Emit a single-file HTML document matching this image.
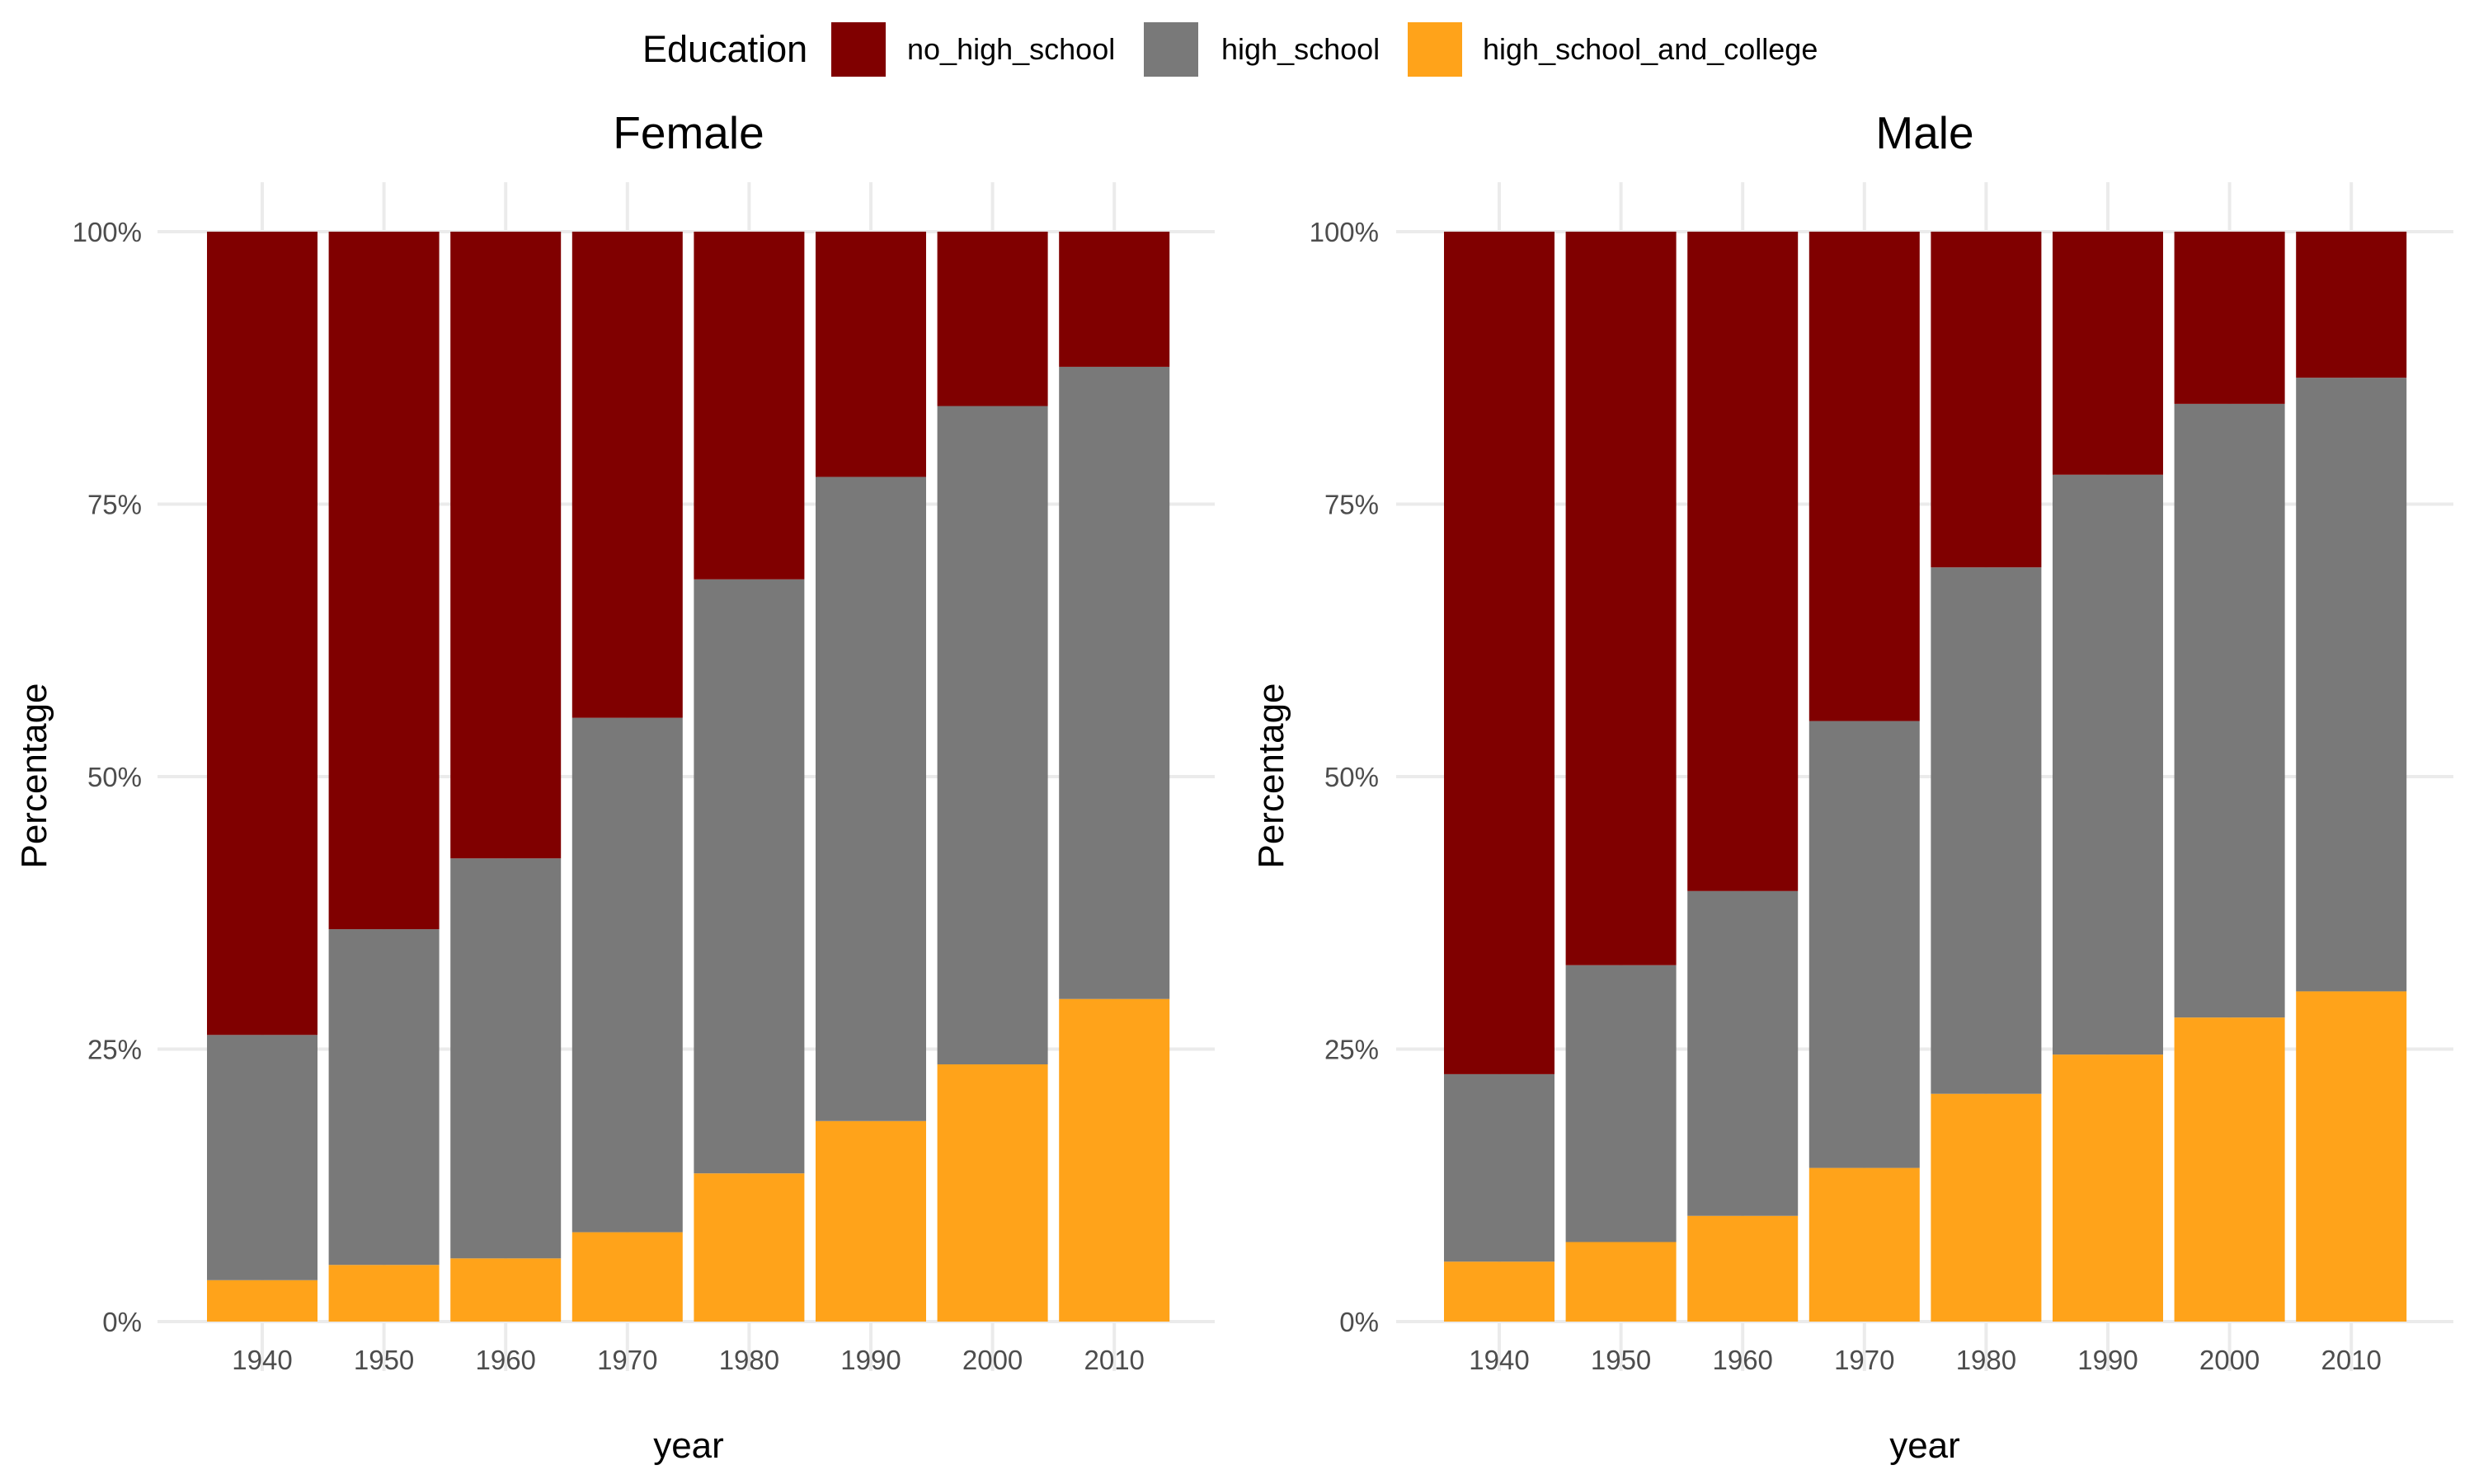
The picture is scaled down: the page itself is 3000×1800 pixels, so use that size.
<!DOCTYPE html>
<html><head><meta charset="utf-8"><style>
html,body{margin:0;padding:0;background:#fff;}
svg{display:block;font-family:"Liberation Sans",Arial,sans-serif;}
</style></head><body>
<svg id="chart" width="3000" height="1800" viewBox="0 0 3000 1800"></svg>
<script>
const years = ["1940","1950","1960","1970","1980","1990","2000","2010"];
const yTicks = [0,0.25,0.5,0.75,1];
const yTickLabels = ["0%","25%","50%","75%","100%"];
const panels = ["Female","Male"];
const femaleCollege = [0.038,0.052,0.058,0.082,0.136,0.184,0.236,0.296];
const femaleHighSchool = [0.225,0.308,0.367,0.472,0.545,0.591,0.604,0.580];
const femaleNoHighSchool = [0.737,0.640,0.575,0.446,0.319,0.225,0.160,0.124];
const maleCollege = [0.055,0.073,0.097,0.141,0.209,0.245,0.279,0.303];
const maleHighSchool = [0.172,0.254,0.298,0.410,0.483,0.532,0.563,0.563];
const maleNoHighSchool = [0.773,0.673,0.605,0.449,0.308,0.223,0.158,0.134];
const colors = {no:"#800000", hs:"#797979", col:"#FFA31A"};
const svg = document.getElementById('chart');
const NS = "http://www.w3.org/2000/svg";
function mk(tag, attrs, parent){const e=document.createElementNS(NS,tag);for(const k in attrs)e.setAttribute(k,attrs[k]);(parent||svg).appendChild(e);return e;}
const yTop=281, yBot=1603;
function yS(v){return yBot-(yBot-yTop)*v;}
const panelDefs=[
 {name:"female",title:"Female",x0:318,gx0:191,gx1:1473,lab:172,pl:42,cx:835,data:[femaleCollege,femaleHighSchool,femaleNoHighSchool]},
 {name:"male",title:"Male",x0:1818,gx0:1693,gx1:2975,lab:1672,pl:1542,cx:2334,data:[maleCollege,maleHighSchool,maleNoHighSchool]}];
const step=147.6, bw=134;
panelDefs.forEach(p=>{
  const g=mk('g',{});
  
  
  function xS(i){return p.x0+i*step;}
  yTicks.forEach((t,i)=>{
    const l=mk('line',{x1:p.gx0,x2:p.gx1,y1:yS(t),y2:yS(t),stroke:"#ebebeb","stroke-width":4},g);
    
    
    const tx=mk('text',{x:p.lab,y:yS(t)+12,"text-anchor":"end","font-size":33,fill:"#4d4d4d"},g);
    tx.textContent=yTickLabels[i];
    
    
  });
  years.forEach((yr,i)=>{
    const l=mk('line',{x1:xS(i),x2:xS(i),y1:yTop-60,y2:yBot+60,stroke:"#ebebeb","stroke-width":4},g);
    
    
    const tx=mk('text',{x:xS(i),y:1661,"text-anchor":"middle","font-size":33,fill:"#4d4d4d"},g);
    tx.textContent=yr;
    
    
  });
  years.forEach((yr,i)=>{
    let base=0;
    [["col",p.data[0]],["hs",p.data[1]],["no",p.data[2]]].forEach(([k,arr])=>{
      const v=arr[i];
      const r=mk('rect',{x:xS(i)-bw/2,y:yS(base+v),width:bw,height:yS(base)-yS(base+v),fill:colors[k]},g);
      
      
      base+=v;
    });
  });
  const t=mk('text',{x:p.cx,y:180,"text-anchor":"middle","font-size":55,fill:"#000"},g);
  t.textContent=p.title;
  
  
  const xt=mk('text',{x:p.cx,y:1768,"text-anchor":"middle","font-size":44,fill:"#000"},g);
  xt.textContent="year";
  
  
  const yt=mk('text',{x:p.pl+14,y:941,"text-anchor":"middle","font-size":44,fill:"#000",transform:`rotate(-90 ${p.pl+14} 941)`},g);
  yt.textContent="Percentage";
  
  
});
</script>
<div style="position:absolute;left:0;top:0;width:3000px;height:110px;font-family:'Liberation Sans',Arial,sans-serif;">
  <div style="position:absolute;left:779px;top:33px;font-size:45px;line-height:54px;">Education</div>
  <div style="position:absolute;left:1008px;top:27px;width:66px;height:66px;background:#800000"></div>
  <div style="position:absolute;left:1100px;top:39px;font-size:36px;line-height:42px;">no_high_school</div>
  <div style="position:absolute;left:1387px;top:27px;width:66px;height:66px;background:#797979"></div>
  <div style="position:absolute;left:1481px;top:39px;font-size:36px;line-height:42px;">high_school</div>
  <div style="position:absolute;left:1707px;top:27px;width:66px;height:66px;background:#FFA31A"></div>
  <div style="position:absolute;left:1798px;top:39px;font-size:36px;line-height:42px;">high_school_and_college</div>
</div>
</body></html>
